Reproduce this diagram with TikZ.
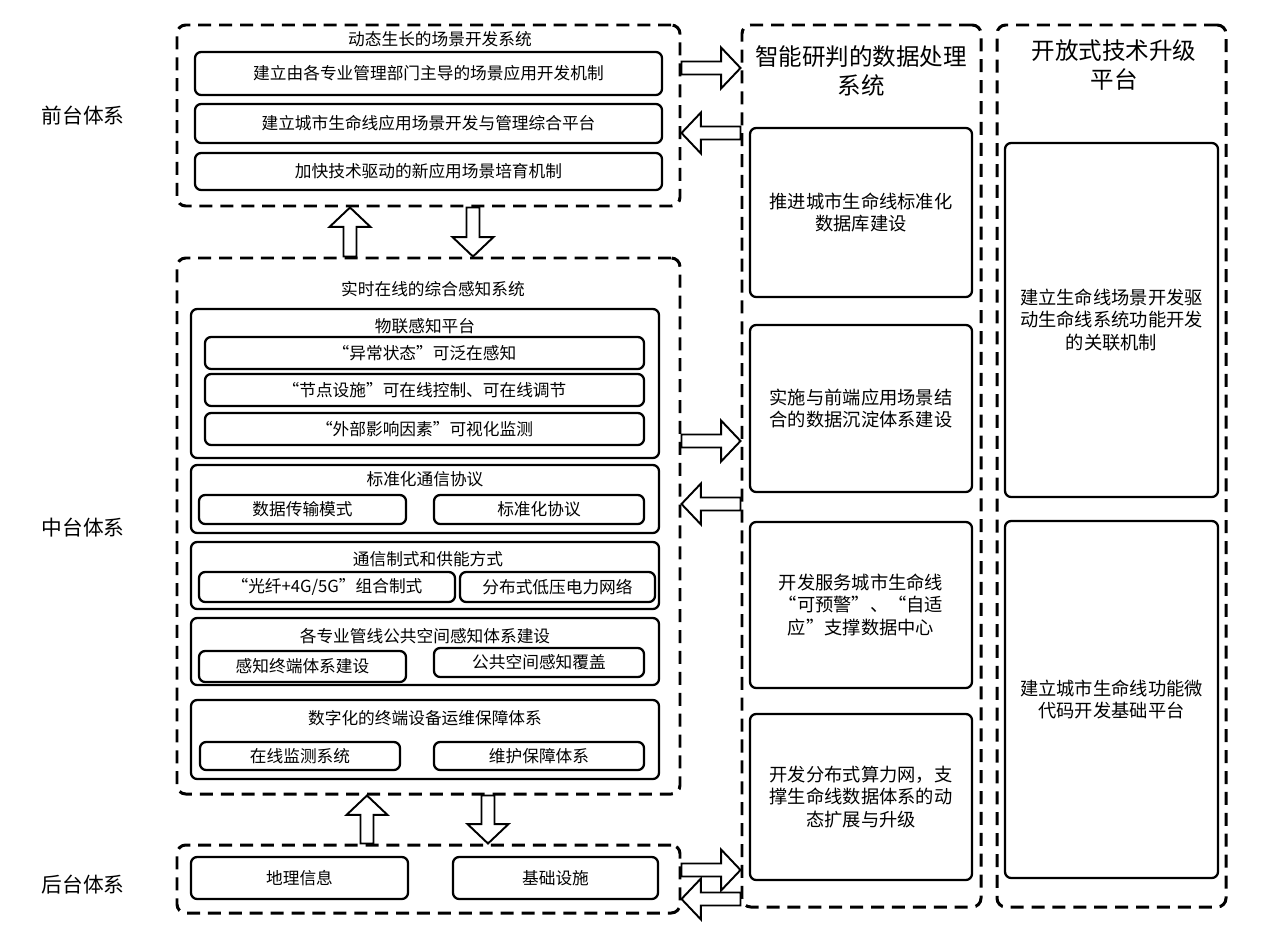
\documentclass[tikz,border=0pt]{standalone}
\usepackage{fontspec}
\setmainfont{Noto Sans CJK SC}
\usepackage{tikz}
\usetikzlibrary{calc,fit,positioning}

\tikzset{
  cont/.style   = {draw, line width=1.7pt, dash pattern=on 7.4pt off 4.5pt,
                   rounded corners=5pt, inner sep=0pt},
  frame/.style  = {draw, line width=1.3pt, rounded corners=3.5pt, inner sep=0pt},
  box/.style    = {frame, font=\fontsize{9.5}{11.5}\selectfont},
  bigbox/.style = {frame, align=center, font=\fontsize{10.4}{12.8}\selectfont},
  sz/.style 2 args = {minimum width=#1*0.02cm, minimum height=#2*0.02cm},
  ttl/.style    = {inner sep=0pt, font=\fontsize{9.5}{11.5}\selectfont},
  colttl/.style = {inner sep=0pt, align=center, font=\fontsize{13.4}{17}\selectfont},
  layer/.style  = {inner sep=0pt, font=\fontsize{11.8}{14}\selectfont},
  blk/.style    = {draw, fill=white, line width=1.1pt, line join=miter},
}
% hollow block arrow from #1 to #2
\newcommand\blkarrow[2]{%
  \coordinate (hb) at ($(#2)!11pt!(#1)$);
  \draw[blk] ($(#1)!3.7pt!90:(#2)$) -- ($(hb)!3.7pt!90:(#2)$) -- ($(hb)!11.6pt!90:(#2)$)
    -- (#2) -- ($(hb)!11.6pt!-90:(#2)$) -- ($(hb)!3.7pt!-90:(#2)$) -- ($(#1)!3.7pt!-90:(#2)$) -- cycle;
}

\begin{document}
\begin{tikzpicture}[x=0.02cm, y=-0.02cm]
  \useasboundingbox (0,0) rectangle (1272,937);

  % layer labels
  \node[layer] (lf) at (83,116) {前台体系};
  \node[layer] (lm) at (83,528) {中台体系};
  \node[layer] (lb) at (83,885) {后台体系};

  % front
  \node[cont, fit={(177,25) (680,206)}] (front) {};
  \node[ttl] (frontT) at (440,39) {动态生长的场景开发系统};
  \node[box, sz={467}{43}] (f1) at (428.5,73.5)  {建立由各专业管理部门主导的场景应用开发机制};
  \node[box, sz={467}{39}] (f2) at (428.5,123.5) {建立城市生命线应用场景开发与管理综合平台};
  \node[box, sz={467}{37}] (f3) at (428.5,171.5) {加快技术驱动的新应用场景培育机制};

  % middle
  \node[cont, fit={(177,258) (680,794)}] (mid) {};
  \node[ttl] (midT) at (433,289) {实时在线的综合感知系统};

  \node[frame, fit={(191,309) (659,458)}] (m1) {};
  \node[ttl] (m1T) at (425,326) {物联感知平台};
  \node[box, sz={439}{32}] (m1a) at (424.5,353) {“异常状态”可泛在感知};
  \node[box, sz={439}{32}] (m1b) at (424.5,390) {“节点设施”可在线控制、可在线调节};
  \node[box, sz={439}{32}] (m1c) at (424.5,429) {“外部影响因素”可视化监测};

  \node[frame, fit={(191,465) (659,533)}] (m2) {};
  \node[ttl] (m2T) at (425,479) {标准化通信协议};
  \node[box, sz={207}{29}] (m2a) at (302.5,509.5) {数据传输模式};
  \node[box, sz={210}{29}] (m2b) at (539,509.5)   {标准化协议};

  \node[frame, fit={(191,542) (659,609)}] (m3) {};
  \node[ttl] (m3T) at (428,559) {通信制式和供能方式};
  \node[box, sz={256}{30}] (m3a) at (327,587)   {“光纤+4G/5G”组合制式};
  \node[box, sz={195}{30}] (m3b) at (557.5,587) {分布式低压电力网络};

  \node[frame, fit={(191,618) (659,685)}] (m4) {};
  \node[ttl] (m4T) at (425,636) {各专业管线公共空间感知体系建设};
  \node[box, sz={207}{31}] (m4a) at (302.5,666.5) {感知终端体系建设};
  \node[box, sz={210}{29}] (m4b) at (539,662.5)   {公共空间感知覆盖};

  \node[frame, fit={(191,700) (659,779)}] (m5) {};
  \node[ttl] (m5T) at (425,718) {数字化的终端设备运维保障体系};
  \node[box, sz={200}{28}] (m5a) at (300,756) {在线监测系统};
  \node[box, sz={210}{28}] (m5b) at (539,756) {维护保障体系};

  % back
  \node[cont, fit={(177,845) (680,913)}] (back) {};
  \node[box, sz={217}{42}] (b1) at (299.5,878) {地理信息};
  \node[box, sz={205}{42}] (b2) at (555.5,878) {基础设施};

  % data column
  \node[cont, fit={(742,25) (981,907)}] (data) {};
  \node[colttl] (dataT) at (861,71) {智能研判的数据处理\\系统};
  \node[bigbox, sz={222}{169}] (d1) at (861,212.5) {推进城市生命线标准化\\数据库建设};
  \node[bigbox, sz={222}{167}] (d2) at (861,408.5) {实施与前端应用场景结\\合的数据沉淀体系建设};
  \node[bigbox, sz={222}{166}] (d3) at (861,605)   {开发服务城市生命线\\“可预警”、“自适\\应”支撑数据中心};
  \node[bigbox, sz={222}{166}] (d4) at (861,797)   {开发分布式算力网，支\\撑生命线数据体系的动\\态扩展与升级};

  % platform column
  \node[cont, fit={(997,25) (1226,907)}] (plat) {};
  \node[colttl] (platT) at (1114,65) {开放式技术升级\\平台};
  \node[bigbox, sz={213}{354}] (p1) at (1111.5,320) {建立生命线场景开发驱\\动生命线系统功能开发\\的关联机制};
  \node[bigbox, sz={213}{357}] (p2) at (1111.5,699.5) {建立城市生命线功能微\\代码开发基础平台};

  % arrows
  \coordinate (r1) at (0,68);  \coordinate (r2) at (0,133);
  \coordinate (r3) at (0,441); \coordinate (r4) at (0,504);
  \coordinate (r5) at (0,870); \coordinate (r6) at (0,899);
  \coordinate (c1) at (350,0); \coordinate (c2) at (473,0);
  \coordinate (c3) at (367,0); \coordinate (c4) at (488,0);

  \blkarrow{front.east |- r1}{data.west |- r1}
  \blkarrow{data.west |- r2}{front.east |- r2}
  \blkarrow{mid.east |- r3}{data.west |- r3}
  \blkarrow{data.west |- r4}{mid.east |- r4}
  \blkarrow{back.east |- r5}{data.west |- r5}
  \blkarrow{data.west |- r6}{back.east |- r6}

  \blkarrow{mid.north -| c1}{front.south -| c1}
  \blkarrow{front.south -| c2}{mid.north -| c2}
  \blkarrow{back.north -| c3}{mid.south -| c3}
  \blkarrow{mid.south -| c4}{back.north -| c4}
\end{tikzpicture}
\end{document}
